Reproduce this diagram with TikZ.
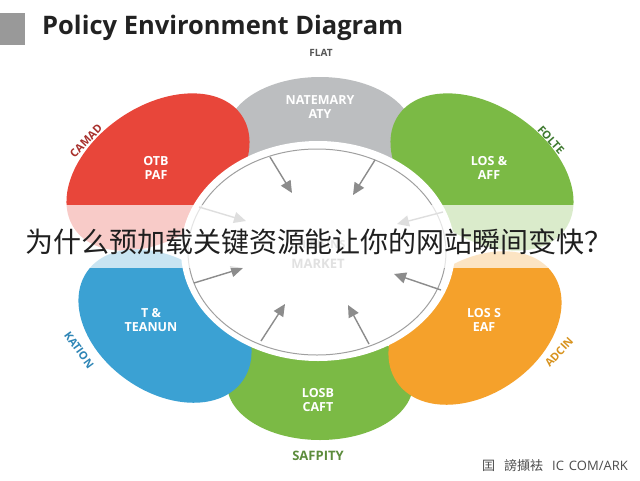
\documentclass[tikz,border=0pt]{standalone}
\usepackage{fontspec}
\setmainfont{Open Sans}
\newfontfamily\cjkfont{Noto Sans CJK SC}
\usetikzlibrary{arrows.meta}
\definecolor{petred}{HTML}{E8463A}
\definecolor{petgray}{HTML}{BCBEC0}
\definecolor{petgreen}{HTML}{7BBA45}
\definecolor{petblue}{HTML}{3BA1D3}
\definecolor{petorange}{HTML}{F5A12B}
\definecolor{arrowgray}{HTML}{8C8C8C}
\definecolor{ringgray}{HTML}{A0A0A0}
\definecolor{flatc}{HTML}{555555}
\definecolor{camadc}{HTML}{A8302C}
\definecolor{foltec}{HTML}{3F7A30}
\definecolor{kationc}{HTML}{2F86B6}
\definecolor{adcinc}{HTML}{D8931E}
\definecolor{safc}{HTML}{5C8C3C}
\definecolor{titlec}{HTML}{222222}
\tikzset{
  petlbl/.style={text=white, font=\bfseries\fontsize{12.5}{14}\selectfont, align=center, inner sep=0pt},
  outlbl/.style={font=\bfseries\fontsize{11}{13}\selectfont, inner sep=0pt},
  arr/.style={draw=arrowgray, line width=1.4pt, -{Triangle[length=12pt,width=11pt]}},
}
\begin{document}
\begin{tikzpicture}[x=1pt,y=-1pt]
\useasboundingbox (0,0) rectangle (640,480);
\fill[white] (0,0) rectangle (640,480);
% title
\fill[fill=black!40] (0,13) rectangle (25,45);
\node[anchor=west, text=titlec, font=\bfseries\fontsize{25.5}{28}\selectfont, inner sep=0pt] (title) at (42,28) {Policy Environment Diagram};
% petals
\fill[petgray] (320,133) ellipse [x radius=93, y radius=56];
\fill[petgreen] (320,384) ellipse [x radius=93, y radius=56];
\fill[petred, rotate around={34:(158,172)}] (158,172) ellipse [x radius=101, y radius=66];
\fill[petgreen, rotate around={-34:(482,172)}] (482,172) ellipse [x radius=101, y radius=66];
\fill[petblue, rotate around={-35:(165,326)}] (165,326) ellipse [x radius=95, y radius=66];
\fill[petorange, rotate around={35:(475,328)}] (475,328) ellipse [x radius=95, y radius=66];
% centre
\fill[white] (318,251) ellipse [x radius=137, y radius=110];
\draw[ringgray, line width=1pt] (317,252) ellipse [x radius=129, y radius=103];
% arrows
\coordinate (s1) at (270,157); \coordinate (e1) at (292,193);
\coordinate (s2) at (375,160); \coordinate (e2) at (353,195);
\coordinate (s3) at (199,207); \coordinate (e3) at (246,221);
\coordinate (s4) at (443,212); \coordinate (e4) at (397,224);
\coordinate (s5) at (194,283); \coordinate (e5) at (243,268);
\coordinate (s6) at (441,290); \coordinate (e6) at (394,274);
\coordinate (s7) at (261,341); \coordinate (e7) at (285,304);
\coordinate (s8) at (369,344); \coordinate (e8) at (348,305);
\foreach \i in {1,...,8} {\draw[arr] (s\i) -- (e\i);}
% centre text
\node[text=black!35, font=\bfseries\fontsize{11}{13}\selectfont, inner sep=0pt] (chir) at (318,245) {CHIRISINS};
\node[text=black!42, font=\bfseries\fontsize{13}{15}\selectfont, inner sep=0pt] (market) at (318,264) {MARKET};
% petal labels
\node[petlbl] (pgray) at (320,107) {NATEMARY\\ATY};
\node[petlbl] (pred) at (156,168) {OTB\\PAF};
\node[petlbl] (pgreen) at (489,168) {LOS \&\\AFF};
\node[petlbl] (pblue) at (151,320) {T \&\\TEANUN};
\node[petlbl] (porange) at (484,320) {LOS S\\EAF};
\node[petlbl] (pbot) at (318,400) {LOSB\\CAFT};
% outer labels
\node[outlbl, text=flatc, font=\bfseries\fontsize{10}{12}\selectfont] (tflat) at (321,53) {FLAT};
\node[outlbl, text=camadc, rotate=46] (tcamad) at (86,141) {CAMAD};
\node[outlbl, text=foltec, rotate=-48] (tfolte) at (551,140) {FOLTE};
\node[outlbl, text=kationc, rotate=-54] (tkation) at (79,350) {KATION};
\node[outlbl, text=adcinc, rotate=47] (tadcin) at (559,352) {ADCIN};
\node[outlbl, text=safc, font=\bfseries\fontsize{13}{15}\selectfont] (tsaf) at (318,456) {SAFPITY};
% footer
\node[anchor=east, text=black!70, font=\fontsize{13}{15}\selectfont, inner sep=0pt] (foot) at (628,466) {{\cjkfont 囯\hspace{9pt}謗擷袪}\hspace{9pt}IC\hspace{5pt}COM/ARK};
% watermark band
\fill[white, opacity=0.72] (0,205) rectangle (640,268);
\node[text=black!88, font=\cjkfont\fontsize{28}{30}\selectfont, inner sep=0pt] (wm) at (319,242) {为什么预加载关键资源能让你的网站瞬间变快？};
\end{tikzpicture}
\end{document}
